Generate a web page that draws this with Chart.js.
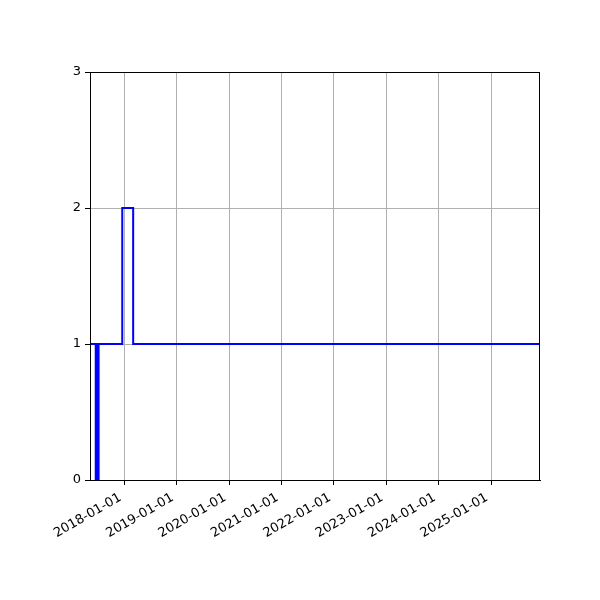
<!DOCTYPE html>
<html>
<head>
<meta charset="utf-8">
<script src="https://cdn.jsdelivr.net/npm/chart.js@4"></script>
<style>
  body { margin: 0; background: #fff; }
</style>
</head>
<body>
<canvas id="stepChart" width="600" height="600"></canvas>
<script>
// step series
const dates = [
    '2017-05-06', '2017-06-15', '2017-06-19', '2017-06-23', '2017-06-27',
    '2017-07-01', '2017-07-05', '2017-12-17', '2018-03-03', '2025-12-08'
];
const counts = [1, 0, 1, 0, 1, 0, 1, 2, 1, 1];

const xStart = '2017-05-06';
const xEnd = '2025-12-08';
const yearTicks = ['2018-01-01', '2019-01-01', '2020-01-01', '2021-01-01',
                   '2022-01-01', '2023-01-01', '2024-01-01', '2025-01-01'];
const yTicks = [0, 1, 2, 3];

function dayNum(s) {
    return Date.parse(s + 'T00:00:00Z') / 86400000;
}
function dayLabel(d) {
    return new Date(d * 86400000).toISOString().slice(0, 10);
}

const points = dates.map((d, i) => ({ x: dayNum(d), y: counts[i] }));

// box round the plot area, like matplotlib spines
const frame = {
    id: 'frame',
    afterDatasetsDraw(chart) {
        const a = chart.chartArea;
        const ctx = chart.ctx;
        ctx.save();
        ctx.strokeStyle = '#000';
        ctx.lineWidth = 1;
        ctx.strokeRect(a.left + 0.5, a.top + 0.5, a.right - a.left - 1, a.bottom - a.top);
        ctx.restore();
    }
};

const ctx = document.getElementById('stepChart').getContext('2d');
new Chart(ctx, {
    type: 'line',
    data: {
        datasets: [{
            data: points,
            // chart.js 'before' keeps the old value until the next point (steps-post)
            stepped: 'before',
            borderColor: '#0000ff',
            borderWidth: 2,
            pointRadius: 0,
            fill: false
        }]
    },
    options: {
        responsive: false,
        animation: false,
        devicePixelRatio: 1,
        layout: { padding: { top: 72, right: 60, left: 0, bottom: 0 } },
        plugins: { legend: { display: false }, tooltip: { enabled: false } },
        scales: {
            x: {
                type: 'linear',
                min: dayNum(xStart),
                max: dayNum(xEnd),
                afterBuildTicks(scale) {
                    scale.ticks = yearTicks.map(t => ({ value: dayNum(t) }));
                },
                afterFit(scale) { scale.height = 120; },
                grid: { color: '#b0b0b0', lineWidth: 1, tickColor: '#000', tickLength: 5 },
                border: { color: '#000' },
                ticks: {
                    autoSkip: false,
                    minRotation: 30,
                    maxRotation: 30,
                    padding: 5,
                    labelOffset: -4,
                    color: '#000',
                    font: { family: 'DejaVu Sans', size: 13 },
                    callback: v => dayLabel(v)
                }
            },
            y: {
                min: 0,
                max: 3,
                afterBuildTicks(scale) {
                    scale.ticks = yTicks.map(v => ({ value: v }));
                },
                afterFit(scale) { scale.width = 90; },
                grid: { color: '#b0b0b0', lineWidth: 1, tickColor: '#000', tickLength: 5 },
                border: { color: '#000' },
                ticks: {
                    padding: 4,
                    color: '#000',
                    font: { family: 'DejaVu Sans', size: 13 }
                }
            }
        }
    },
    plugins: [frame]
});
</script>
</body>
</html>
